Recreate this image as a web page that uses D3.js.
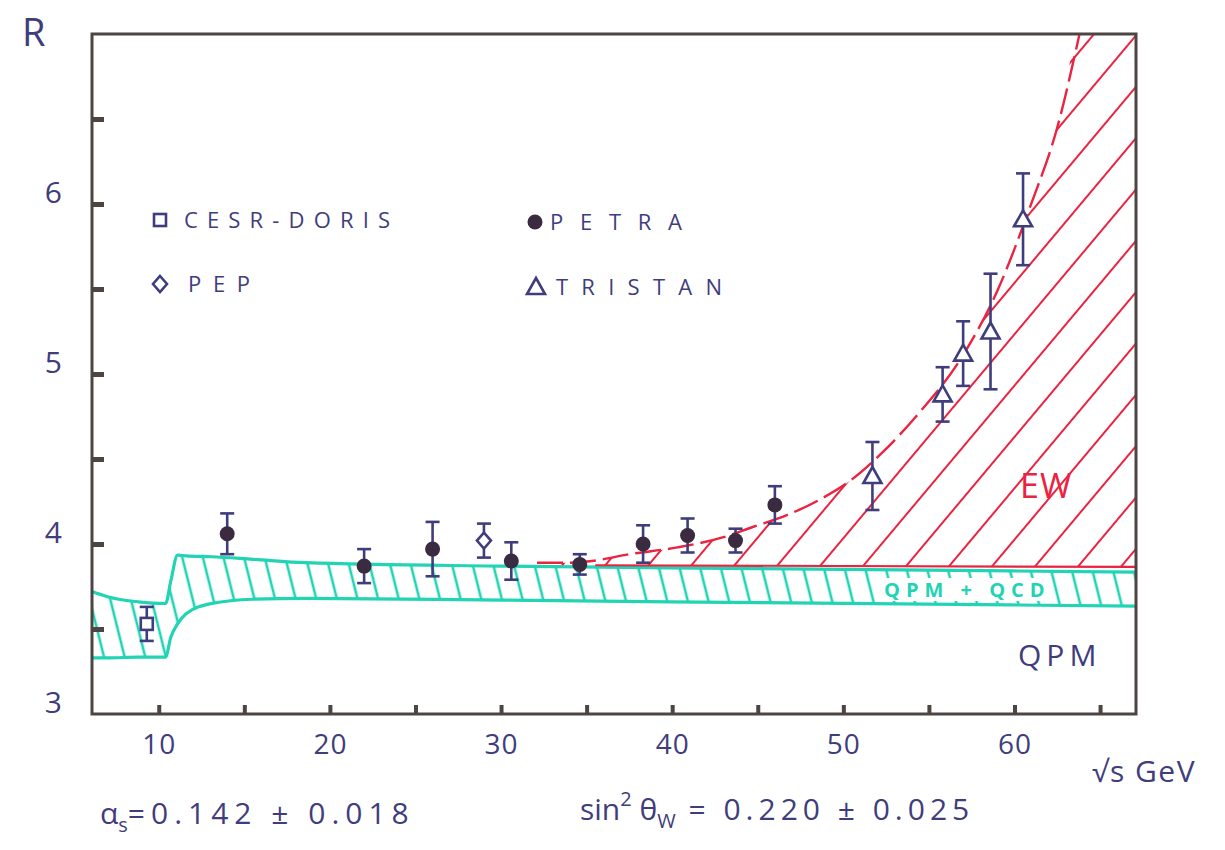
<!DOCTYPE html>
<html>
<head>
<meta charset="utf-8">
<script src="https://cdn.jsdelivr.net/npm/d3@7"></script>
<style>
body{margin:0;background:#fff}
text{font-family:"Open Sans","DejaVu Sans",sans-serif}
</style>
</head>
<body>
<script>
var WIDTH = 1225, HEIGHT = 850;
var INK = "#3f3d7c", FRAME = "#4d4542", TEAL = "#22d3b4", RED = "#ea2340", DOT = "#3b2b40";

// measurements (sqrt(s) in GeV, R)
var cesrE = [9.3], cesrR = [3.53], cesrErr = [0.1];
var pepE = [29.0], pepR = [4.02], pepErr = [0.1];
var petraE = [14.0, 22.0, 26.0, 30.6, 34.6, 38.3, 40.9, 43.7, 46.0];
var petraR = [4.06, 3.87, 3.97, 3.9, 3.88, 4.0, 4.05, 4.02, 4.23];
var petraErr = [0.12, 0.1, 0.16, 0.11, 0.06, 0.11, 0.1, 0.07, 0.11];
var tristanE = [51.7, 55.8, 57.0, 58.6, 60.5];
var tristanR = [4.4, 4.88, 5.12, 5.25, 5.91];
var tristanErr = [0.2, 0.16, 0.19, 0.34, 0.27];

// QPM + QCD band
var qcdE = [6.1, 7.0, 8.8, 10.4, 10.7, 11.1, 11.6, 13.1, 15.5, 18.6, 30, 45, 67.1];
var qcdHi = [3.72, 3.69, 3.66, 3.65, 3.78, 3.935, 3.93, 3.925, 3.91, 3.89, 3.87, 3.855, 3.835];
var qcdLo = [3.33, 3.33, 3.335, 3.335, 3.45, 3.53, 3.59, 3.65, 3.675, 3.68, 3.67, 3.655, 3.635];

// electroweak curve and its base
var ewE = [32.1, 34.0, 35.3, 37.5, 40.3, 43.0, 44.7, 46.7, 48.6, 50.5, 52.3, 54.5, 56.8, 59.0, 60.9, 62.5, 63.8];
var ewR = [3.89, 3.89, 3.9, 3.94, 3.98, 4.04, 4.1, 4.17, 4.26, 4.38, 4.54, 4.78, 5.08, 5.49, 5.98, 6.45, 7.0];
var ewBaseE = [35.5, 67.1], ewBaseR = [3.875, 3.865];

var xTicks = [10, 15, 20, 25, 30, 35, 40, 45, 50, 55, 60, 65];
var xLabels = [10, 20, 30, 40, 50, 60];
var yTicks = [3.5, 4, 4.5, 5, 5.5, 6, 6.5];
var yLabels = [3, 4, 5, 6];

var x = d3.scaleLinear().domain([6.1, 67.1]).range([92, 1136]);
var y = d3.scaleLinear().domain([3, 7]).range([714, 34]);

var svg = d3.select("body").append("svg")
	.attr("width", WIDTH)
	.attr("height", HEIGHT);
svg.append("rect").attr("width", WIDTH).attr("height", HEIGHT).attr("fill", "#fff");

var defs = svg.append("defs");
defs.append("clipPath").attr("id", "plot")
	.append("rect")
	.attr("x", x.range()[0]).attr("y", y.range()[1])
	.attr("width", x.range()[1] - x.range()[0])
	.attr("height", y.range()[0] - y.range()[1]);

var hatch = function(id, w, angle, color, sw){
	var p = defs.append("pattern").attr("id", id)
		.attr("patternUnits", "userSpaceOnUse")
		.attr("width", w).attr("height", 200)
		.attr("patternTransform", "rotate(" + angle + ")");
	p.append("line").attr("x1", 2).attr("x2", 2).attr("y1", 0).attr("y2", 200)
		.attr("stroke", color).attr("stroke-width", sw);
};
hatch("tealHatch", 20, -14, TEAL, 2.6);
hatch("redHatch", 33, 40, RED, 2);

var plot = svg.append("g").attr("clip-path", "url(#plot)");

// QPM+QCD band
var qcd = qcdE.map(function(e, i){ return {e: e, hi: qcdHi[i], lo: qcdLo[i]}; });
var area = d3.area().curve(d3.curveMonotoneX)
	.x(function(d){ return x(d.e); })
	.y0(function(d){ return y(d.lo); })
	.y1(function(d){ return y(d.hi); });
plot.append("path").attr("d", area(qcd)).attr("fill", "url(#tealHatch)");
["hi", "lo"].forEach(function(k){
	plot.append("path")
		.attr("d", d3.line().curve(d3.curveMonotoneX)
			.x(function(d){ return x(d.e); })
			.y(function(d){ return y(d[k]); })(qcd))
		.attr("fill", "none").attr("stroke", TEAL).attr("stroke-width", 3.2)
		.attr("stroke-linejoin", "round");
});

// EW region
var base = d3.scaleLinear().domain(ewBaseE).range(ewBaseR).clamp(true);
var ew = ewE.map(function(e, i){ return {e: e, lo: base(e), hi: ewR[i]}; });
ew.push({e: x.domain()[1], lo: base(x.domain()[1]), hi: y.domain()[1]});
plot.append("path").attr("d", area(ew)).attr("fill", "url(#redHatch)");
plot.append("path")
	.attr("d", d3.line().x(function(d, i){ return x(ewBaseE[i]); }).y(function(d){ return y(d); })(ewBaseR))
	.attr("stroke", RED).attr("stroke-width", 2.2).attr("fill", "none");
plot.append("path")
	.attr("d", d3.line().curve(d3.curveMonotoneX)
		.x(function(d, i){ return x(ewE[i]); }).y(function(d){ return y(d); })(ewR))
	.attr("stroke", RED).attr("stroke-width", 2.4).attr("fill", "none")
	.attr("stroke-dasharray", "26 7");

// QPM + QCD label inside band
var qq = svg.append("g");
var qqText = qq.append("text").attr("x", 884).attr("y", 597)
	.attr("fill", TEAL).attr("font-size", 20).attr("font-weight", "bold")
	.attr("letter-spacing", 6)
	.text("QPM + QCD");
var bb = qqText.node().getBBox();
qq.insert("rect", "text").attr("x", bb.x - 4).attr("y", bb.y + 2)
	.attr("width", bb.width + 2).attr("height", bb.height - 4).attr("fill", "#fff");

// frame and ticks
svg.append("rect")
	.attr("x", x.range()[0]).attr("y", y.range()[1])
	.attr("width", x.range()[1] - x.range()[0])
	.attr("height", y.range()[0] - y.range()[1])
	.attr("fill", "none").attr("stroke", FRAME).attr("stroke-width", 3);

var yTickAxis = svg.append("g")
	.attr("transform", "translate(" + x.range()[0] + ",0)")
	.call(d3.axisLeft(y).tickValues(yTicks).tickSize(-12).tickFormat(""));
yTickAxis.select(".domain").remove();
yTickAxis.selectAll("line").attr("stroke", FRAME).attr("stroke-width", 5);

var xTickAxis = svg.append("g")
	.attr("transform", "translate(0," + y.range()[0] + ")")
	.call(d3.axisBottom(x).tickValues(xTicks).tickSize(-9).tickFormat(""));
xTickAxis.select(".domain").remove();
xTickAxis.selectAll("line").attr("stroke", FRAME).attr("stroke-width", 4);

var yLab = svg.append("g")
	.attr("transform", "translate(" + x.range()[0] + ",0)")
	.call(d3.axisLeft(y).tickValues(yLabels).tickSize(0).tickPadding(30).tickFormat(d3.format("d")));
yLab.select(".domain").remove();
yLab.selectAll("text").attr("fill", INK).attr("font-size", 30)
	.attr("font-family", "Open Sans").attr("dy", "-0.05em");

var xLab = svg.append("g")
	.attr("transform", "translate(0," + y.range()[0] + ")")
	.call(d3.axisBottom(x).tickValues(xLabels).tickSize(0).tickPadding(20));
xLab.select(".domain").remove();
xLab.selectAll("text").attr("fill", INK).attr("font-size", 28)
	.attr("font-family", "Open Sans").attr("letter-spacing", 1);

// error bars and markers
var errorBars = function(E, R, Err){
	var g = svg.append("g").attr("stroke", INK).attr("stroke-width", 2.6).attr("fill", "none");
	E.forEach(function(e, i){
		var cx = x(e), t = y(R[i] + Err[i]), b = y(R[i] - Err[i]);
		g.append("line").attr("x1", cx).attr("x2", cx).attr("y1", t).attr("y2", b);
		g.append("line").attr("x1", cx - 7).attr("x2", cx + 7).attr("y1", t).attr("y2", t);
		g.append("line").attr("x1", cx - 7).attr("x2", cx + 7).attr("y1", b).attr("y2", b);
	});
};
var shapes = {
	square: function(g){ g.append("rect").attr("x", -6).attr("y", -6).attr("width", 12).attr("height", 12); },
	diamond: function(g){ g.append("path").attr("d", "M0,-8L7,0L0,8L-7,0Z"); },
	triangle: function(g){ g.append("path").attr("d", "M0,-9L9,7L-9,7Z"); },
	dot: function(g){ g.append("circle").attr("r", 7.5).attr("fill", DOT).attr("stroke", "none"); }
};
var marker = function(kind, cx, cy){
	var g = svg.append("g").attr("transform", "translate(" + cx + "," + cy + ")")
		.attr("fill", "#fff").attr("stroke", INK).attr("stroke-width", 2.6);
	shapes[kind](g);
};
var series = [
	{E: cesrE, R: cesrR, Err: cesrErr, kind: "square"},
	{E: pepE, R: pepR, Err: pepErr, kind: "diamond"},
	{E: petraE, R: petraR, Err: petraErr, kind: "dot"},
	{E: tristanE, R: tristanR, Err: tristanErr, kind: "triangle"}
];
series.forEach(function(s){
	errorBars(s.E, s.R, s.Err);
	s.E.forEach(function(e, i){ marker(s.kind, x(e), y(s.R[i])); });
});

// legend
var legend = [
	{name: "CESR-DORIS", kind: "square", mx: 160, my: 220, tx: 184, tw: 206},
	{name: "PEP", kind: "diamond", mx: 160, my: 284, tx: 188, tw: 62},
	{name: "PETRA", kind: "dot", mx: 535, my: 222, tx: 550, tw: 132},
	{name: "TRISTAN", kind: "triangle", mx: 536, my: 287, tx: 556, tw: 166}
];
legend.forEach(function(l){
	marker(l.kind, l.mx, l.my);
	svg.append("text").attr("x", l.tx).attr("y", l.my + 8)
		.attr("fill", INK).attr("font-size", 22)
		.attr("textLength", l.tw).attr("lengthAdjust", "spacing")
		.text(l.name);
});

// annotations
svg.append("text").attr("x", 22).attr("y", 46).attr("fill", INK)
	.attr("font-size", 38).attr("font-family", "Liberation Serif").text("R");
svg.append("text").attr("x", 1020).attr("y", 498).attr("fill", RED)
	.attr("font-size", 34).attr("letter-spacing", 1).text("EW");
svg.append("text").attr("x", 1018).attr("y", 666).attr("fill", INK)
	.attr("font-size", 30).attr("letter-spacing", 5).text("QPM");
svg.append("text").attr("x", 1092).attr("y", 782).attr("fill", INK)
	.attr("font-size", 30).attr("letter-spacing", 1.5).text("\u221As GeV");

var a = svg.append("text").attr("x", 100).attr("y", 824).attr("fill", INK).attr("font-size", 30);
a.append("tspan").text("\u03b1");
a.append("tspan").attr("font-size", 20).attr("dy", 8).text("s");
a.append("tspan").attr("dy", -8).attr("letter-spacing", 6).text("=0.142 \u00b1 0.018");

var s = svg.append("text").attr("x", 580).attr("y", 820).attr("fill", INK).attr("font-size", 30);
s.append("tspan").text("sin");
s.append("tspan").attr("font-size", 20).attr("dy", -14).text("2");
s.append("tspan").attr("dy", 14).text(" \u03b8");
s.append("tspan").attr("font-size", 20).attr("dy", 8).text("W");
s.append("tspan").attr("dy", -8).attr("letter-spacing", 5).text(" = 0.220 \u00b1 0.025");
</script>
</body>
</html>
